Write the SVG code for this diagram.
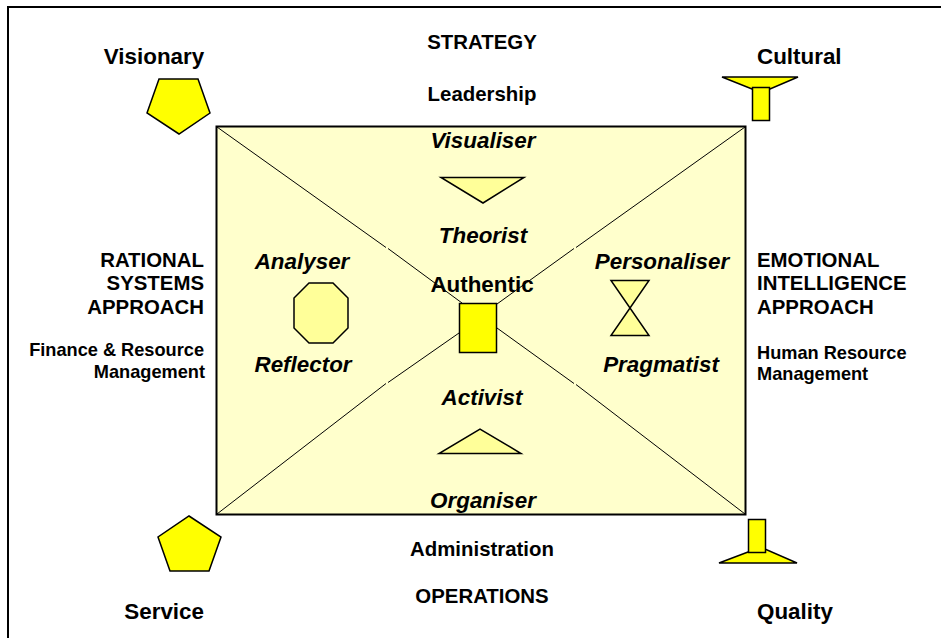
<svg xmlns="http://www.w3.org/2000/svg" width="941" height="638" viewBox="0 0 941 638">
<style>
text{font-family:"Liberation Sans",Arial,sans-serif;font-weight:700;fill:#000}
.a{font-size:22.4px}.b{font-size:20.4px}.c{font-size:18.2px}
.i{font-size:22.4px;font-style:italic}
.m{text-anchor:middle}.e{text-anchor:end}
.s{stroke:#000;stroke-width:1.5}
.y{fill:#ff0}.p{fill:#ffff99}
</style>
<rect width="941" height="638" fill="#fff"/>
<path d="M8 638V7H941" fill="none" stroke="#000" stroke-width="2"/>
<g id="box"><rect x="216.500" y="126.500" width="529" height="388" fill="#ffffcc" stroke="#000" stroke-width="2"/></g>
<g id="connectors" fill="none" stroke="#000" stroke-width="1">
<path d="M217 127L386 247.500M388 248.500L462 303M745 127L576 247.500M574 248.500L497 304M217 514L386 383.500M388 382.500L459 333M745 514L576 384.500M574 383.500L497 328"/>
</g>
<g id="visionary"><polygon class="y s" points="159,79 198,79 210,113 179,134 147,113"/><text class="a m" x="154" y="64">Visionary</text></g>
<g id="cultural"><polygon class="y s" points="722,77 798,77 770,89 752,89"/><rect class="y s" x="752.500" y="87.500" width="17" height="33"/><text class="a" x="757" y="64">Cultural</text></g>
<g id="service"><polygon class="y s" points="189,516 221,537 209,571 170,571 158,537"/><text class="a e" x="204" y="619">Service</text></g>
<g id="quality"><polygon class="y s" points="719,563 748,552 765,549 797,563"/><rect class="y s" x="748.500" y="519.500" width="17" height="33"/><text class="a" x="757" y="619">Quality</text></g>
<g id="strategy"><text class="b m" x="482" y="49">STRATEGY</text></g>
<g id="leadership"><text class="b m" x="482" y="101">Leadership</text></g>
<g id="administration"><text class="b m" x="482" y="556">Administration</text></g>
<g id="operations"><text class="b m" x="482" y="603">OPERATIONS</text></g>
<g id="rational"><text class="b e" x="204" y="267">RATIONAL</text><text class="b e" x="204" y="290">SYSTEMS</text><text class="b e" x="204" y="314">APPROACH</text></g>
<g id="finance"><text class="c e" x="204" y="356">Finance &amp; Resource</text><text class="c e" x="205" y="378">Management</text></g>
<g id="emotional"><text class="b" x="757" y="267">EMOTIONAL</text><text class="b" x="757" y="290">INTELLIGENCE</text><text class="b" x="757" y="314">APPROACH</text></g>
<g id="human"><text class="c" x="757" y="359">Human Resource</text><text class="c" x="757" y="380">Management</text></g>
<g id="visualiser"><text class="i m" x="483" y="148">Visualiser</text><polygon class="p s" points="441,177.500 524,177.500 483,203"/></g>
<g id="theorist"><text class="i m" x="483" y="243">Theorist</text></g>
<g id="analyser"><text class="i m" x="302" y="269">Analyser</text><polygon class="p s" points="309,283 333,283 348,298 348,328 333,343 309,343 294,328 294,298"/></g>
<g id="reflector"><text class="i m" x="303" y="372">Reflector</text></g>
<g id="personaliser"><text class="i m" x="662" y="269">Personaliser</text><polygon class="p s" points="611,280.500 649,280.500 611,335.500 649,335.500"/></g>
<g id="pragmatist"><text class="i m" x="661" y="372">Pragmatist</text></g>
<g id="authentic"><text class="a m" x="482" y="292">Authentic</text><rect class="y s" x="459.500" y="303.500" width="37" height="49"/></g>
<g id="activist"><text class="i m" x="482" y="405">Activist</text><polygon class="p s" points="439,453.500 521,453.500 480,429"/></g>
<g id="organiser"><text class="i m" x="483" y="508">Organiser</text></g>
</svg>
